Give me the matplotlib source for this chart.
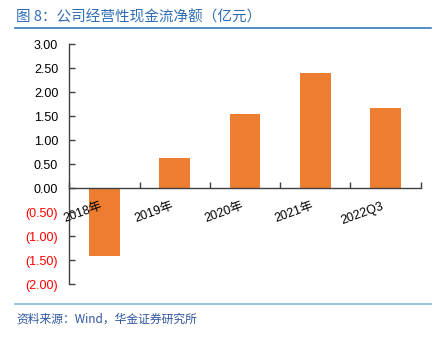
import matplotlib
matplotlib.use("Agg")
import matplotlib.pyplot as plt
import numpy as np

plt.rcParams['font.family'] = ['Liberation Sans', 'Noto Sans CJK SC', 'DejaVu Sans']

categories = ['2018年', '2019年', '2020年', '2021年', '2022Q3']
cash_flow = [-1.41, 0.625, 1.54, 2.40, 1.67]
y_ticks = [-2.0, -1.5, -1.0, -0.5, 0.0, 0.5, 1.0, 1.5, 2.0, 2.5, 3.0]

title = '图 8：公司经营性现金流净额（亿元）'
source = '资料来源：Wind，华金证券研究所'

fig = plt.figure(figsize=(4.4, 3.41), dpi=100)
ax = fig.add_axes([0.1575, 0.167, 0.7985, 0.703])

x = np.arange(len(categories))
ax.bar(x, cash_flow, width=0.44, color='#ED7D31', zorder=1)
ax.set_axisbelow(False)  # zero line and labels drawn over the bars

ax.set_xlim(-0.5, len(categories) - 0.5)
ax.set_ylim(-2.0, 3.0)

# y axis: black for positive, red in parentheses for negative
ax.set_yticks(y_ticks)
ax.set_yticklabels([f'{v:.2f}' if v >= 0 else f'({abs(v):.2f})' for v in y_ticks])
for lbl, v in zip(ax.get_yticklabels(), y_ticks):
    lbl.set_color('#FF0000' if v < 0 else 'black')
ax.tick_params(axis='y', direction='in', length=4, width=1, color='#404040',
               labelsize=9, pad=8)

# x axis sits on zero, ticks between categories, labels at centres
ax.spines['bottom'].set_position(('data', 0))
ax.spines['top'].set_visible(False)
ax.spines['right'].set_visible(False)
for s in ('left', 'bottom'):
    ax.spines[s].set_color('#404040')
    ax.spines[s].set_linewidth(1)
ax.set_xticks(np.arange(len(categories) + 1) - 0.5)
ax.set_xticklabels([])
ax.tick_params(axis='x', which='major', direction='in', length=4, width=1, color='#404040')
ax.set_xticks(x, minor=True)
ax.set_xticklabels(categories, minor=True)
ax.tick_params(axis='x', which='minor', length=0, labelsize=9, pad=8.5)
for lbl in ax.get_xticklabels(minor=True):
    lbl.set_rotation(20)
    lbl.set_ha('right')

# header and footer
fig.text(16 / 440, 1 - 17 / 341, title, fontsize=10.5, color='#2E6DB5',
         family=['Noto Sans CJK SC', 'DejaVu Sans'], va='center', ha='left')
fig.add_artist(plt.Line2D([15 / 440, 431 / 440], [1 - 28 / 341, 1 - 28 / 341],
                          color='#3478C0', lw=1.2))
fig.add_artist(plt.Line2D([15 / 440, 431 / 440], [1 - 304 / 341, 1 - 304 / 341],
                          color='#8AB8E2', lw=1.2))
fig.text(16 / 440, 1 - 319 / 341, source, fontsize=8.5, color='#2F55A0', style='italic',
         family=['Noto Sans CJK SC', 'DejaVu Sans'], va='center', ha='left')

fig.savefig('out.png', dpi=100)
